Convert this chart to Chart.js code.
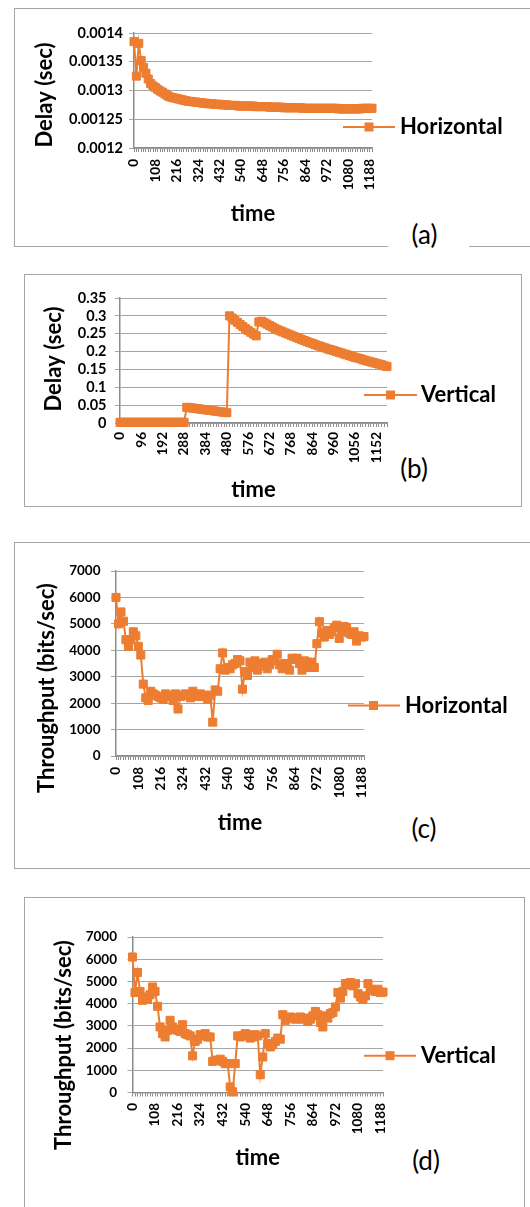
<!DOCTYPE html>
<html>
<head>
<meta charset="utf-8">
<script src="https://cdn.jsdelivr.net/npm/chart.js@4.4.1/dist/chart.umd.min.js"></script>
<style>
  html, body { margin: 0; padding: 0; background: #fff; }
  body { width: 530px; height: 1207px; position: relative; overflow: hidden; }
  .box { position: absolute; border: 1px solid #a6a6a6; box-sizing: border-box; }
  canvas { position: absolute; }
  .tag { position: absolute; background: #fff; text-align: center; font: 400 26px Lato, sans-serif; color: #000; box-sizing: border-box; }
</style>
</head>
<body>
<div class="box" style="left:14px;top:8px;width:540px;height:239px"></div>
<div class="box" style="left:24px;top:274px;width:498px;height:233px"></div>
<div class="box" style="left:14px;top:542px;width:540px;height:327px"></div>
<div class="box" style="left:24px;top:897px;width:501px;height:340px"></div>

<canvas id="chartA" width="515" height="236" style="left:15px;top:9px"></canvas>
<canvas id="chartB" width="496" height="231" style="left:25px;top:275px"></canvas>
<canvas id="chartC" width="515" height="325" style="left:15px;top:543px"></canvas>
<canvas id="chartD" width="499" height="309" style="left:25px;top:898px"></canvas>

<div class="tag" style="left:388px;top:218px;width:81px;height:34px;line-height:32px;padding-right:8px">(a)</div>
<div class="tag" style="left:384px;top:452px;width:60px;height:32px;line-height:32px">(b)</div>
<div class="tag" style="left:394px;top:812px;width:60px;height:32px;line-height:32px">(c)</div>
<div class="tag" style="left:396px;top:1144px;width:60px;height:32px;line-height:32px">(d)</div>

<script>
// time axis (s), one sample every 12 s
const timeLabels = [
  0, 12, 24, 36, 48, 60, 72, 84, 96, 108,
  120, 132, 144, 156, 168, 180, 192, 204, 216, 228,
  240, 252, 264, 276, 288, 300, 312, 324, 336, 348,
  360, 372, 384, 396, 408, 420, 432, 444, 456, 468,
  480, 492, 504, 516, 528, 540, 552, 564, 576, 588,
  600, 612, 624, 636, 648, 660, 672, 684, 696, 708,
  720, 732, 744, 756, 768, 780, 792, 804, 816, 828,
  840, 852, 864, 876, 888, 900, 912, 924, 936, 948,
  960, 972, 984, 996, 1008, 1020, 1032, 1044, 1056, 1068,
  1080, 1092, 1104, 1116, 1128, 1140, 1152, 1164, 1176, 1188,
  1200
];

// (a) delay, horizontal
const delayHorizontal = [
  0.001385, 0.001325, 0.001382, 0.001352, 0.00134, 0.00133, 0.00132, 0.001312, 0.001308, 0.001305,
  0.001302, 0.001299, 0.001297, 0.001294, 0.001291, 0.001289, 0.001288, 0.001287, 0.001286, 0.001285,
  0.001284, 0.001283, 0.001282, 0.001281, 0.001281, 0.00128, 0.00128, 0.001279, 0.001279, 0.001278,
  0.001278, 0.001277, 0.001277, 0.001277, 0.001276, 0.001276, 0.001276, 0.001275, 0.001275, 0.001275,
  0.001274, 0.001274, 0.001274, 0.001274, 0.001273, 0.001273, 0.001273, 0.001273, 0.001273, 0.001273,
  0.001273, 0.001272, 0.001272, 0.001272, 0.001272, 0.001272, 0.001272, 0.001271, 0.001271, 0.001271,
  0.001271, 0.001271, 0.001271, 0.00127, 0.00127, 0.00127, 0.00127, 0.00127, 0.00127, 0.00127,
  0.00127, 0.001269, 0.001269, 0.001269, 0.001269, 0.001269, 0.001269, 0.001269, 0.001269, 0.001269,
  0.001269, 0.001269, 0.001269, 0.001269, 0.001269, 0.001269, 0.001268, 0.001268, 0.001268, 0.001268,
  0.001268, 0.001268, 0.001268, 0.001268, 0.001268, 0.001268, 0.001269, 0.001269, 0.001269, 0.001269,
  0.001269
];

// (b) delay, vertical
const delayVertical = [
  0.002, 0.002, 0.002, 0.002, 0.002, 0.002, 0.002, 0.002, 0.002, 0.002,
  0.002, 0.002, 0.002, 0.002, 0.002, 0.002, 0.002, 0.002, 0.002, 0.002,
  0.002, 0.002, 0.002, 0.002, 0.002, 0.044, 0.043, 0.042, 0.041, 0.04,
  0.039, 0.038, 0.037, 0.036, 0.035, 0.034, 0.033, 0.032, 0.031, 0.03,
  0.029, 0.3, 0.294, 0.288, 0.282, 0.276, 0.27, 0.264, 0.259, 0.254,
  0.249, 0.244, 0.283, 0.285, 0.281, 0.277, 0.273, 0.269, 0.265, 0.261,
  0.258, 0.255, 0.252, 0.249, 0.246, 0.243, 0.24, 0.237, 0.234, 0.231,
  0.228, 0.225, 0.223, 0.22, 0.217, 0.215, 0.212, 0.21, 0.207, 0.205,
  0.203, 0.2, 0.198, 0.196, 0.193, 0.191, 0.189, 0.186, 0.184, 0.182,
  0.18, 0.177, 0.175, 0.173, 0.171, 0.169, 0.167, 0.165, 0.163, 0.16,
  0.158
];

// (c) throughput, horizontal
const throughputHorizontal = [
  6000, 5000, 5450, 5100, 4400, 4150, 4400, 4700, 4550, 4150,
  3820, 2720, 2200, 2100, 2450, 2350, 2300, 2250, 2200, 2150,
  2350, 2300, 2250, 2100, 2350, 1780, 2250, 2300, 2350, 2300,
  2200, 2450, 2300, 2250, 2350, 2250, 2300, 2150, 2300, 1280,
  2500, 2450, 3300, 3900, 3250, 3350, 3300, 3450, 3500, 3650,
  3600, 2530, 3200, 3050, 3550, 3350, 3600, 3250, 3400, 3500,
  3550, 3300, 3450, 3650, 3600, 3850, 3450, 3300, 3500, 3450,
  3250, 3700, 3650, 3700, 3500, 3250, 3600, 3550, 3350, 3550,
  3350, 4250, 5080, 4650, 4500, 4750, 4600, 4700, 4850, 4950,
  4450, 4700, 4900, 4850, 4650, 4600, 4700, 4350, 4550, 4500,
  4520
];

// (d) throughput, vertical
const throughputVertical = [
  6100, 4500, 5400, 4550, 4150, 4300, 4200, 4400, 4750, 4550,
  3880, 2950, 2650, 2500, 2800, 3250, 2950, 2850, 2800, 2750,
  3050, 2650, 2600, 2550, 1650, 2300, 2400, 2600, 2550, 2650,
  2500, 2500, 1400, 1450, 1450, 1500, 1400, 1300, 1300, 250,
  30, 1300, 2550, 2500, 2550, 2650, 2600, 2450, 2500, 2600,
  2550, 800, 1600, 2650, 2200, 2050, 2150, 2300, 2450, 2400,
  3500, 3250, 3350, 3400, 3350, 3300, 3350, 3400, 3300, 3350,
  3200, 3300, 3450, 3650, 3500, 3150, 2950, 3450, 3350, 3550,
  3600, 3850, 4500, 4250, 4550, 4900, 4850, 4950, 4800, 4900,
  4450, 4300, 4200, 4350, 4900, 4650, 4600, 4550, 4650, 4500,
  4520
];

const ORANGE = '#ED7D31';
const GRID = '#a6a6a6';
const AXIS = '#8c8c8c';
const FONT = 'Lato, sans-serif';

// Excel-style legend entry (line + square marker + label) and the rotated y title
const excelDecor = {
  id: 'excelDecor',
  afterDraw(chart, args, o) {
    const ctx = chart.ctx;
    ctx.save();
    ctx.strokeStyle = ORANGE;
    ctx.lineWidth = 2;
    ctx.beginPath();
    ctx.moveTo(o.x1, o.y);
    ctx.lineTo(o.x2, o.y);
    ctx.stroke();
    ctx.fillStyle = ORANGE;
    ctx.fillRect(o.xm - 4.5, o.y - 4.5, 9, 9);
    ctx.fillStyle = '#000';
    ctx.font = 'bold 22px ' + FONT;
    ctx.textBaseline = 'middle';
    ctx.textAlign = 'left';
    ctx.fillText(chart.data.datasets[0].label, o.xt, o.y);
    // y axis title
    ctx.translate(o.tx, o.ty);
    ctx.rotate(-Math.PI / 2);
    ctx.textAlign = 'center';
    ctx.fillText(o.title, 0, 0);
    ctx.restore();
  }
};

function makeChart(id, label, values, yTitle, y, lay) {
  const ctx = document.getElementById(id).getContext('2d');
  return new Chart(ctx, {
    type: 'line',
    data: {
      labels: timeLabels,
      datasets: [{
        label: label,
        data: values,
        borderColor: ORANGE,
        backgroundColor: ORANGE,
        borderWidth: 2,
        pointStyle: 'rect',
        pointRadius: 5.7,
        pointBorderWidth: 1,
        pointBackgroundColor: ORANGE,
        pointBorderColor: ORANGE,
        tension: 0,
        clip: false
      }]
    },
    options: {
      responsive: false,
      animation: false,
      devicePixelRatio: 1,
      events: [],
      layout: { padding: lay.pad },
      plugins: {
        legend: { display: false },
        tooltip: { enabled: false },
        excelDecor: Object.assign({ title: yTitle }, lay.decor)
      },
      scales: {
        x: {
          type: 'category',
          grid: { drawOnChartArea: false, drawTicks: true, tickLength: 4, color: AXIS, lineWidth: 1 },
          border: { display: true, color: AXIS, width: 1.5 },
          ticks: {
            autoSkip: false,
            minRotation: 90,
            maxRotation: 90,
            padding: lay.xPad,
            color: '#000',
            font: { family: FONT, weight: 'bold', size: 13.5 },
            callback: (v, i) => (timeLabels[i] % lay.xStep === 0 ? String(timeLabels[i]) : '')
          },
          title: { display: true, text: 'time', color: '#000', padding: 0, font: { family: FONT, weight: 'bold', size: 22 } },
          afterFit: s => { s.height = lay.xHeight; }
        },
        y: {
          min: y.min,
          max: y.max,
          grid: { color: GRID, lineWidth: 1, drawTicks: true, tickLength: 5 },
          border: { display: true, color: AXIS, width: 1.5 },
          ticks: {
            autoSkip: false,
            stepSize: y.step,
            padding: lay.yPad,
            color: '#000',
            font: { family: FONT, weight: 'bold', size: lay.yFont, lineHeight: 1 },
            callback: v => String(parseFloat(Number(v).toFixed(6)))
          },
          afterFit: s => { s.width = lay.yWidth; }
        }
      }
    },
    plugins: [excelDecor]
  });
}

makeChart('chartA', 'Horizontal', delayHorizontal, 'Delay (sec)',
  { min: 0.0012, max: 0.0014, step: 0.00005 },
  { pad: { left: 17, top: 24, right: 158, bottom: 18 }, yWidth: 102, xHeight: 79,
    xPad: 7, yPad: 6, yFont: 14.5, xStep: 108,
    decor: { x1: 328, x2: 380, xm: 354, y: 118, xt: 385, tx: 30, ty: 86 } });

makeChart('chartB', 'Vertical', delayVertical, 'Delay (sec)',
  { min: 0, max: 0.35, step: 0.05 },
  { pad: { left: 16, top: 23, right: 134, bottom: 3 }, yWidth: 79, xHeight: 80,
    xPad: 5, yPad: 8.5, yFont: 14.5, xStep: 96,
    decor: { x1: 339, x2: 392, xm: 365.5, y: 120, xt: 396, tx: 29, ty: 84 } });

makeChart('chartC', 'Horizontal', throughputHorizontal, 'Throughput (bits/sec)',
  { min: 0, max: 7000, step: 1000 },
  { pad: { left: 19, top: 28, right: 166, bottom: 32 }, yWidth: 82, xHeight: 80,
    xPad: 7, yPad: 10.5, yFont: 13.5, xStep: 108,
    decor: { x1: 333, x2: 385, xm: 358.5, y: 162.5, xt: 390, tx: 32, ty: 145 } });

makeChart('chartD', 'Vertical', throughputVertical, 'Throughput (bits/sec)',
  { min: 0, max: 7000, step: 1000 },
  { pad: { left: 26, top: 39, right: 141, bottom: 36 }, yWidth: 81.5, xHeight: 78.5,
    xPad: 6.5, yPad: 10.5, yFont: 13.5, xStep: 108,
    decor: { x1: 339, x2: 391, xm: 365, y: 157.7, xt: 396, tx: 39, ty: 147 } });
</script>
</body>
</html>
